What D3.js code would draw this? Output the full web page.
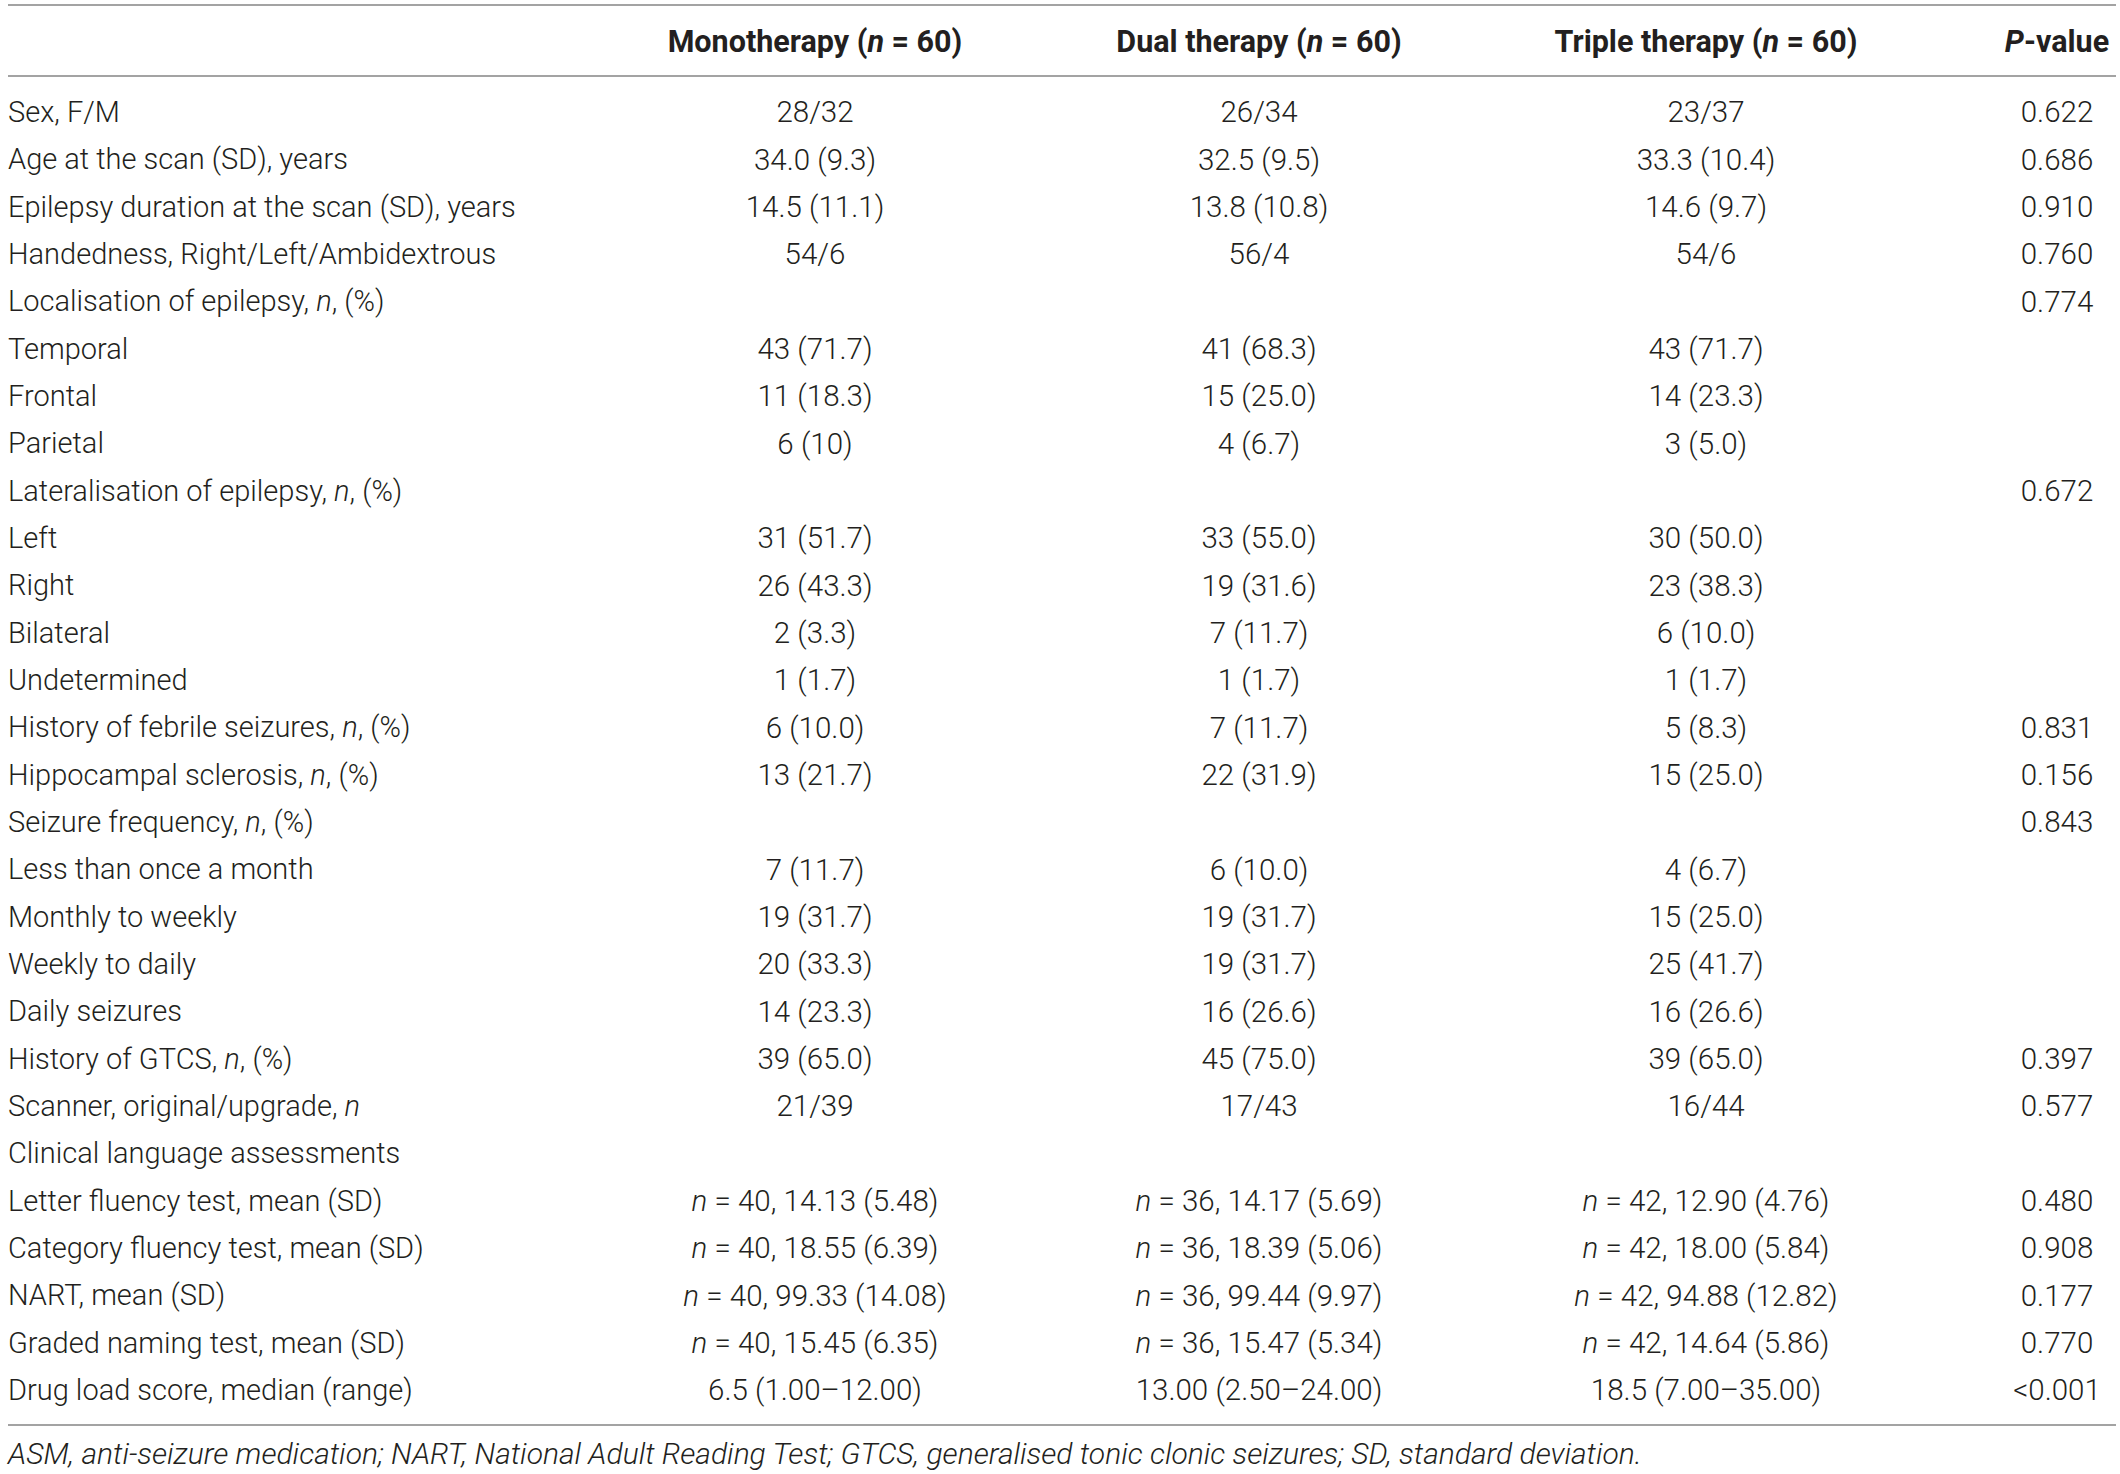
<!DOCTYPE html>
<html>
<head>
<meta charset="utf-8">
<script src="https://cdn.jsdelivr.net/npm/d3@7"></script>
<style>
  body { margin: 0; background: #fff; }
  text { font-family: Roboto, "Liberation Sans", sans-serif; fill: #231f20; }
</style>
</head>
<body>
<div id="chart-area"></div>
<script>
// *x* marks italic text
var headers = ["", "Monotherapy (*n* = 60)", "Dual therapy (*n* = 60)", "Triple therapy (*n* = 60)", "*P*-value"];

var labels = [
  "Sex, F/M",
  "Age at the scan (SD), years",
  "Epilepsy duration at the scan (SD), years",
  "Handedness, Right/Left/Ambidextrous",
  "Localisation of epilepsy, *n*, (%)",
  "Temporal",
  "Frontal",
  "Parietal",
  "Lateralisation of epilepsy, *n*, (%)",
  "Left",
  "Right",
  "Bilateral",
  "Undetermined",
  "History of febrile seizures, *n*, (%)",
  "Hippocampal sclerosis, *n*, (%)",
  "Seizure frequency, *n*, (%)",
  "Less than once a month",
  "Monthly to weekly",
  "Weekly to daily",
  "Daily seizures",
  "History of GTCS, *n*, (%)",
  "Scanner, original/upgrade, *n*",
  "Clinical language assessments",
  "Letter fluency test, mean (SD)",
  "Category fluency test, mean (SD)",
  "NART, mean (SD)",
  "Graded naming test, mean (SD)",
  "Drug load score, median (range)"
];

var mono = ["28/32", "34.0 (9.3)", "14.5 (11.1)", "54/6", "", "43 (71.7)", "11 (18.3)", "6 (10)", "",
  "31 (51.7)", "26 (43.3)", "2 (3.3)", "1 (1.7)", "6 (10.0)", "13 (21.7)", "", "7 (11.7)", "19 (31.7)",
  "20 (33.3)", "14 (23.3)", "39 (65.0)", "21/39", "",
  "*n* = 40, 14.13 (5.48)", "*n* = 40, 18.55 (6.39)", "*n* = 40, 99.33 (14.08)", "*n* = 40, 15.45 (6.35)",
  "6.5 (1.00\u201312.00)"];

var dual = ["26/34", "32.5 (9.5)", "13.8 (10.8)", "56/4", "", "41 (68.3)", "15 (25.0)", "4 (6.7)", "",
  "33 (55.0)", "19 (31.6)", "7 (11.7)", "1 (1.7)", "7 (11.7)", "22 (31.9)", "", "6 (10.0)", "19 (31.7)",
  "19 (31.7)", "16 (26.6)", "45 (75.0)", "17/43", "",
  "*n* = 36, 14.17 (5.69)", "*n* = 36, 18.39 (5.06)", "*n* = 36, 99.44 (9.97)", "*n* = 36, 15.47 (5.34)",
  "13.00 (2.50\u201324.00)"];

var triple = ["23/37", "33.3 (10.4)", "14.6 (9.7)", "54/6", "", "43 (71.7)", "14 (23.3)", "3 (5.0)", "",
  "30 (50.0)", "23 (38.3)", "6 (10.0)", "1 (1.7)", "5 (8.3)", "15 (25.0)", "", "4 (6.7)", "15 (25.0)",
  "25 (41.7)", "16 (26.6)", "39 (65.0)", "16/44", "",
  "*n* = 42, 12.90 (4.76)", "*n* = 42, 18.00 (5.84)", "*n* = 42, 94.88 (12.82)", "*n* = 42, 14.64 (5.86)",
  "18.5 (7.00\u201335.00)"];

var pvals = ["0.622", "0.686", "0.910", "0.760", "0.774", "", "", "", "0.672", "", "", "", "", "0.831",
  "0.156", "0.843", "", "", "", "", "0.397", "0.577", "", "0.480", "0.908", "0.177", "0.770", "<0.001"];

var footnote = "*ASM, anti-seizure medication; NART, National Adult Reading Test; GTCS, generalised tonic clonic seizures; SD, standard deviation.*";

var width = 2120, height = 1474;
var fontSize = 29.5;

var svg = d3.select("#chart-area")
    .append("svg")
    .attr("width", width)
    .attr("height", height);

// Scales
var y = d3.scalePoint()
    .domain(d3.range(labels.length))
    .range([112, 1390]);

var cols = ["label", "mono", "dual", "triple", "p"];
var x = d3.scaleOrdinal()
    .domain(cols)
    .range([8, 815, 1259, 1706, 2057]);
var anchor = d3.scaleOrdinal()
    .domain(cols)
    .range(["start", "middle", "middle", "middle", "middle"]);

// split "*italic*" markup into tspans
function richText(sel, str) {
  str.split("*").forEach(function(part, i) {
    if (part === "") return;
    sel.append("tspan")
      .attr("font-style", i % 2 ? "italic" : "normal")
      .text(part);
  });
}

// rules
var rules = [5, 76, 1425];
svg.selectAll("line.rule")
    .data(rules)
    .enter()
    .append("line")
    .attr("class", "rule")
    .attr("x1", 8)
    .attr("x2", 2116)
    .attr("y1", function(d) { return d; })
    .attr("y2", function(d) { return d; })
    .attr("stroke", "#a3a3a3")
    .attr("stroke-width", 2);

// header
svg.selectAll("text.header")
    .data(headers.map(function(h, i) { return { col: cols[i], text: h }; }))
    .enter()
    .append("text")
    .attr("class", "header")
    .attr("x", function(d) { return x(d.col); })
    .attr("y", 41)
    .attr("dy", "0.35em")
    .attr("text-anchor", function(d) { return anchor(d.col); })
    .attr("font-size", 30.5)
    .attr("font-weight", 700)
    .each(function(d) { richText(d3.select(this), d.text); });

// body cells
var cells = [];
labels.forEach(function(l, i) {
  [l, mono[i], dual[i], triple[i], pvals[i]].forEach(function(v, j) {
    if (v !== "") cells.push({ row: i, col: cols[j], text: v });
  });
});

svg.selectAll("text.cell")
    .data(cells)
    .enter()
    .append("text")
    .attr("class", "cell")
    .attr("x", function(d) { return x(d.col); })
    .attr("y", function(d) { return y(d.row); })
    .attr("dy", "0.35em")
    .attr("text-anchor", function(d) { return anchor(d.col); })
    .attr("font-size", function(d) { return d.col === "label" ? 29 : fontSize; })
    .attr("font-weight", 300)
    .each(function(d) { richText(d3.select(this), d.text); });

// footnote
svg.append("text")
    .attr("x", 8)
    .attr("y", 1453)
    .attr("dy", "0.35em")
    .attr("font-size", 30)
    .attr("font-weight", 300)
    .each(function() { richText(d3.select(this), footnote); });
</script>
</body>
</html>
